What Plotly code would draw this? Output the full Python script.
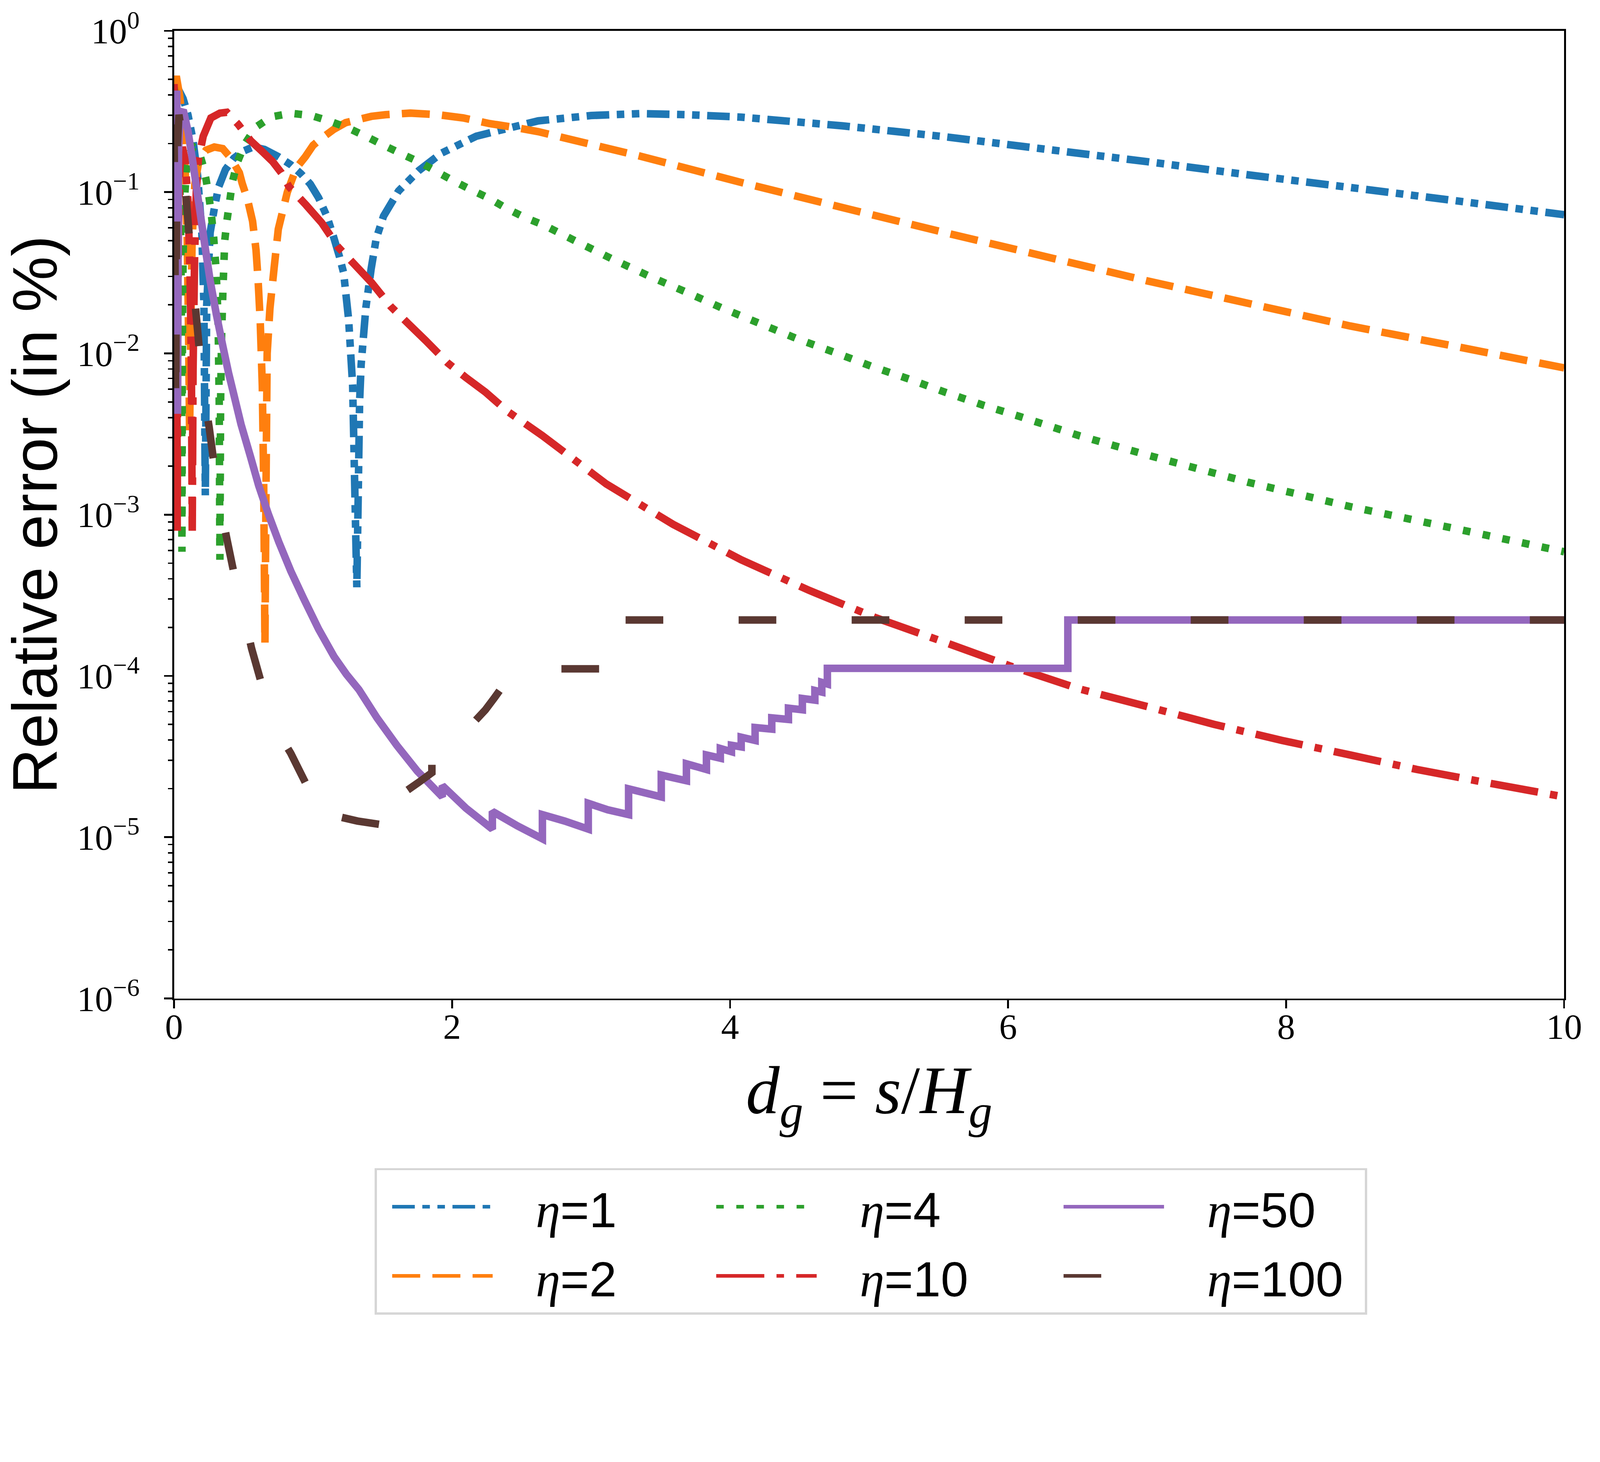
import plotly.graph_objects as go

# ---------------- data ----------------
# x: d_g = s/H_g ; values: log10 of the relative error (in %), read on the log axis

x_eta1 = [0.0, 0.03, 0.065, 0.1, 0.135, 0.17, 0.2, 0.215, 0.225, 0.235, 0.26, 0.29, 0.32, 0.37,
          0.43, 0.5, 0.57, 0.65, 0.75, 0.84, 0.914, 0.98, 1.04, 1.1, 1.148, 1.19, 1.22, 1.256,
          1.285, 1.315, 1.335, 1.346, 1.38, 1.418, 1.454, 1.507, 1.615, 1.76, 1.92, 2.175, 2.62,
          3.0, 3.35, 3.7, 4.08, 4.81, 5.54, 6.27, 7.0, 7.73, 8.46, 9.18, 10.0]
log_eta1 = [-0.35, -0.36, -0.42, -0.52, -0.67, -0.9, -1.25, -1.7, -2.88, -1.7, -1.25, -1.1, -0.97, -0.86,
            -0.79, -0.745, -0.72, -0.735, -0.78, -0.83, -0.887, -0.95, -1.035, -1.15, -1.278, -1.4, -1.5, -1.79,
            -2.2, -3.45, -2.3, -2.07, -1.716, -1.476, -1.29, -1.149, -0.993, -0.867, -0.76, -0.653, -0.558,
            -0.525, -0.513, -0.52, -0.535, -0.589, -0.656, -0.734, -0.811, -0.893, -0.971, -1.049, -1.14]

x_eta2 = [0.0, 0.02, 0.04, 0.06, 0.08, 0.095, 0.105, 0.112, 0.12, 0.13, 0.15, 0.18, 0.23, 0.29, 0.35,
          0.41, 0.47, 0.49, 0.53, 0.565, 0.59, 0.605, 0.62, 0.635, 0.645, 0.654, 0.662, 0.67, 0.69, 0.72,
          0.75, 0.815, 0.88, 0.945, 1.0, 1.06, 1.15, 1.235, 1.325, 1.42, 1.52, 1.7, 1.9, 2.08, 2.27,
          2.46, 2.62, 3.35, 4.08, 4.81, 5.54, 6.27, 7.0, 7.73, 8.46, 9.18, 10.0]
log_eta2 = [-0.30, -0.30, -0.40, -0.55, -0.85, -1.3, -1.9, -2.5, -1.9, -1.3, -0.95, -0.8, -0.74, -0.72, -0.73,
            -0.79, -0.88, -0.945, -1.05, -1.18, -1.36, -1.55, -1.8, -2.2, -2.8, -3.80, -2.8, -2.0, -1.72, -1.47,
            -1.23, -1.0, -0.85, -0.78, -0.71, -0.667, -0.61, -0.569, -0.55, -0.53, -0.52, -0.51, -0.52, -0.54,
            -0.575, -0.60, -0.625, -0.776, -0.94, -1.096, -1.25, -1.40, -1.55, -1.69, -1.83, -1.95, -2.09]

x_eta4 = [0.0, 0.015, 0.03, 0.042, 0.05, 0.054, 0.057, 0.06, 0.065, 0.075, 0.09, 0.11, 0.14, 0.17, 0.19,
          0.21, 0.23, 0.25, 0.27, 0.285, 0.3, 0.31, 0.318, 0.325, 0.33, 0.335, 0.342, 0.352, 0.365, 0.38,
          0.40, 0.42, 0.455, 0.51, 0.59, 0.70, 0.84, 0.987, 1.12, 1.256, 1.38, 1.507, 1.63, 1.77, 1.89,
          2.01, 2.14, 2.27, 2.39, 2.52, 2.661, 2.914, 3.172, 3.429, 3.692, 3.945, 4.212, 4.479, 4.746,
          5.014, 5.286, 5.554, 5.82, 6.097, 6.51, 7.0, 7.73, 8.46, 9.18, 10.0]
log_eta4 = [-0.35, -0.42, -0.62, -0.95, -1.4, -2.0, -3.23, -2.0, -1.4, -1.05, -0.85, -0.76, -0.72, -0.74, -0.78,
            -0.84, -0.92, -1.02, -1.15, -1.28, -1.45, -1.62, -1.85, -2.3, -3.28, -2.3, -1.9, -1.6, -1.30, -1.18,
            -1.06, -0.936, -0.816, -0.70, -0.596, -0.533, -0.511, -0.525, -0.56, -0.604, -0.654, -0.709, -0.76,
            -0.816, -0.873, -0.93, -0.987, -1.04, -1.1, -1.156, -1.205, -1.314, -1.423, -1.525, -1.623, -1.72,
            -1.814, -1.908, -1.992, -2.079, -2.159, -2.243, -2.321, -2.395, -2.51, -2.63, -2.80, -2.95, -3.08, -3.23]

x_eta10 = [0.0, 0.008, 0.015, 0.02, 0.023, 0.026, 0.032, 0.042, 0.06, 0.08, 0.1, 0.115, 0.125, 0.131,
           0.137, 0.148, 0.16, 0.175, 0.21, 0.265, 0.33, 0.38, 0.462, 0.55, 0.633, 0.708, 0.772, 0.827,
           0.95, 1.062, 1.18, 1.30, 1.42, 1.56, 1.69, 1.81, 1.97, 2.10, 2.24, 2.40, 2.65, 3.11, 3.59,
           4.08, 4.57, 5.05, 5.54, 6.02, 6.51, 7.0, 7.48, 7.97, 8.46, 8.94, 9.43, 10.0]
log_eta10 = [-0.33, -0.6, -1.2, -2.0, -3.1, -2.0, -1.2, -0.85, -0.72, -0.8, -1.05, -1.5, -2.1, -3.1,
             -2.1, -1.4, -1.0, -0.8, -0.653, -0.54, -0.51, -0.505, -0.58, -0.68, -0.747, -0.809, -0.88, -0.966,
             -1.08, -1.19, -1.34, -1.45, -1.56, -1.71, -1.82, -1.92, -2.06, -2.15, -2.24, -2.36, -2.51, -2.81,
             -3.06, -3.28, -3.47, -3.64, -3.79, -3.94, -4.08, -4.19, -4.30, -4.40, -4.49, -4.58, -4.66, -4.75]

x_eta50 = [0.02, 0.025, 0.032, 0.045, 0.07, 0.1, 0.134, 0.18, 0.22, 0.26, 0.305, 0.35, 0.392, 0.44,
           0.482, 0.55, 0.609, 0.68, 0.754, 0.84, 0.935, 1.04, 1.151, 1.24, 1.33, 1.46, 1.602, 1.75,
           1.93, 1.93, 2.1, 2.29, 2.29, 2.47, 2.65, 2.65, 2.81, 2.98, 2.98, 3.12, 3.27, 3.27, 3.505,
           3.505, 3.686, 3.686, 3.83, 3.83, 3.93, 3.93, 4.01, 4.01, 4.08, 4.08, 4.18, 4.18, 4.30, 4.30,
           4.42, 4.42, 4.52, 4.52, 4.61, 4.61, 4.66, 4.66, 4.70, 4.70, 6.43, 6.43, 10.0]
log_eta50 = [-0.37, -2.375, -0.75, -0.5, -0.505, -0.62, -0.807, -1.08, -1.32, -1.55, -1.76, -1.95, -2.12, -2.29,
             -2.44, -2.64, -2.82, -3.0, -3.17, -3.35, -3.525, -3.71, -3.88, -3.99, -4.085, -4.26, -4.43, -4.59,
             -4.75, -4.68, -4.82, -4.95, -4.84, -4.93, -5.01, -4.86, -4.90, -4.95, -4.79, -4.83, -4.86, -4.70,
             -4.75, -4.615, -4.65, -4.545, -4.58, -4.49, -4.51, -4.45, -4.47, -4.43, -4.44, -4.38, -4.40, -4.32,
             -4.33, -4.26, -4.27, -4.20, -4.21, -4.14, -4.15, -4.09, -4.10, -4.04, -4.05, -3.953, -3.953,
             -3.653, -3.653]

x_eta100 = [0.0, 0.006, 0.012, 0.018, 0.025, 0.035, 0.05, 0.073, 0.09, 0.115, 0.137, 0.16, 0.19, 0.214,
            0.253, 0.29, 0.33, 0.38, 0.44, 0.50, 0.558, 0.63, 0.70, 0.77, 0.84, 0.95, 1.06, 1.17, 1.17,
            1.32, 1.475, 1.475, 1.56, 1.66, 1.66, 1.76, 1.855, 1.855, 1.91, 1.91, 1.96, 1.96, 2.1, 2.24,
            2.31, 2.38, 2.45, 2.45, 3.15, 3.15, 10.0]
log_eta100 = [-0.58, -1.2, -2.4, -1.2, -0.7, -0.52, -0.6, -0.87, -1.07, -1.33, -1.55, -1.77, -2.05, -2.25,
              -2.46, -2.7, -2.93, -3.15, -3.4, -3.61, -3.83, -4.05, -4.27, -4.38, -4.48, -4.67, -4.85, -4.95,
              -4.87, -4.9, -4.92, -4.79, -4.83, -4.86, -4.72, -4.66, -4.60, -4.55, -4.56, -4.52, -4.53, -4.45,
              -4.34, -4.21, -4.13, -4.045, -4.0, -3.956, -3.956, -3.653, -3.653]

eta_labels = ["1", "2", "4", "10", "50", "100"]
y_tick_values = [1e-6, 1e-5, 1e-4, 1e-3, 1e-2, 1e-1, 1]
y_tick_text = ["10<sup>\u22126</sup>", "10<sup>\u22125</sup>", "10<sup>\u22124</sup>",
               "10<sup>\u22123</sup>", "10<sup>\u22122</sup>", "10<sup>\u22121</sup>", "10<sup>0</sup>"]
x_tick_values = [0, 2, 4, 6, 8, 10]
x_tick_text = ["0", "2", "4", "6", "8", "10"]

# ---------------- styling ----------------
series = [
    (x_eta1, log_eta1, "#1f77b4", "63px,21px,21px,21px,21px,21px", "A", 564),
    (x_eta2, log_eta2, "#ff7f0e", "78px,34px", "A", 564),
    (x_eta4, log_eta4, "#2ca02c", "21px,35px", "B", 629),
    (x_eta10, log_eta10, "#d62728", "134px,34px,21px,34px", "B", 629),
    (x_eta50, log_eta50, "#9467bd", "solid", "C", 550),
    (x_eta100, log_eta100, "#5a3832", "105px,210px", "C", 550),
]

fig = go.Figure()
for (xs, ls, color, dash, grp, lw), lab in zip(series, eta_labels):
    fig.add_trace(go.Scatter(
        x=xs, y=[10 ** v for v in ls], mode="lines",
        name=('<span style="font-size:138px">   <span style="font-family:Liberation Serif">'
              '<i>\u03b7</i></span>=' + lab + '</span>'),
        legendgroup=grp, legendwidth=lw,
        line=dict(color=color, width=21, dash=dash, simplify=False),
    ))

W, H = 4459, 3742
serif = "Liberation Serif"
fig.update_layout(
    width=W, height=H,
    margin=dict(l=485, r=100, t=86, b=960, pad=0, autoexpand=False),
    paper_bgcolor="white", plot_bgcolor="white",
    font=dict(family="Liberation Sans", color="black", size=100),
    showlegend=True,
    legend=dict(orientation="h", traceorder="grouped", indentation=44,
                x=(1044 - 485) / 3874, xanchor="left", y=-0.1754, yanchor="top",
                bordercolor="#d6d6d6", borderwidth=6, bgcolor="white",
                font=dict(family="Liberation Sans", size=146, color="black"),
                itemwidth=280),
    xaxis=dict(range=[0, 10], showgrid=False, zeroline=False,
               showline=True, linecolor="black", linewidth=5, mirror=True,
               ticks="outside", ticklen=23, tickwidth=5, tickcolor="black",
               tickvals=x_tick_values, ticktext=x_tick_text,
               tickfont=dict(family=serif, size=100), ticklabelstandoff=-35,
               title=dict(text="<i>d</i><sub><i>g</i></sub> = <i>s</i>/<i>H</i><sub><i>g</i></sub>",
                          font=dict(family=serif, size=188), standoff=55)),
    yaxis=dict(type="log", range=[-6, 0], showgrid=False, zeroline=False,
               showline=True, linecolor="black", linewidth=5, mirror=True,
               ticks="outside", ticklen=23, tickwidth=5, tickcolor="black",
               tickvals=y_tick_values, ticktext=y_tick_text,
               tickfont=dict(family=serif, size=100), ticklabelstandoff=48,
               minor=dict(ticks="outside", ticklen=12, tickwidth=4, tickcolor="black",
                          tickvals=[k * 10.0 ** e for e in range(-6, 0) for k in range(2, 10)]),
               title=dict(text="Relative error (in %)",
                          font=dict(family="Liberation Sans", size=175), standoff=2)),
)

# keep the whole figure inside the browser viewport (scale down if the viewport is smaller)
fit_js = """
(function(){
  var W = %d, H = %d;
  var gd = document.getElementById('{plot_id}');
  document.documentElement.style.overflow = 'hidden';
  document.body.style.margin = '0';
  document.body.style.overflow = 'hidden';
  var s = Math.min(window.innerWidth / W, window.innerHeight / H);
  if (s < 0.999) {
    gd.style.transformOrigin = '0 0';
    gd.style.transform = 'scale(' + s + ')';
    var p = gd.parentElement;
    p.style.width = (W * s) + 'px';
    p.style.height = (H * s) + 'px';
    p.style.overflow = 'hidden';
  }
})();
""" % (W, H)

fig.write_html("out.html", post_script=fit_js, config={"displayModeBar": False})
